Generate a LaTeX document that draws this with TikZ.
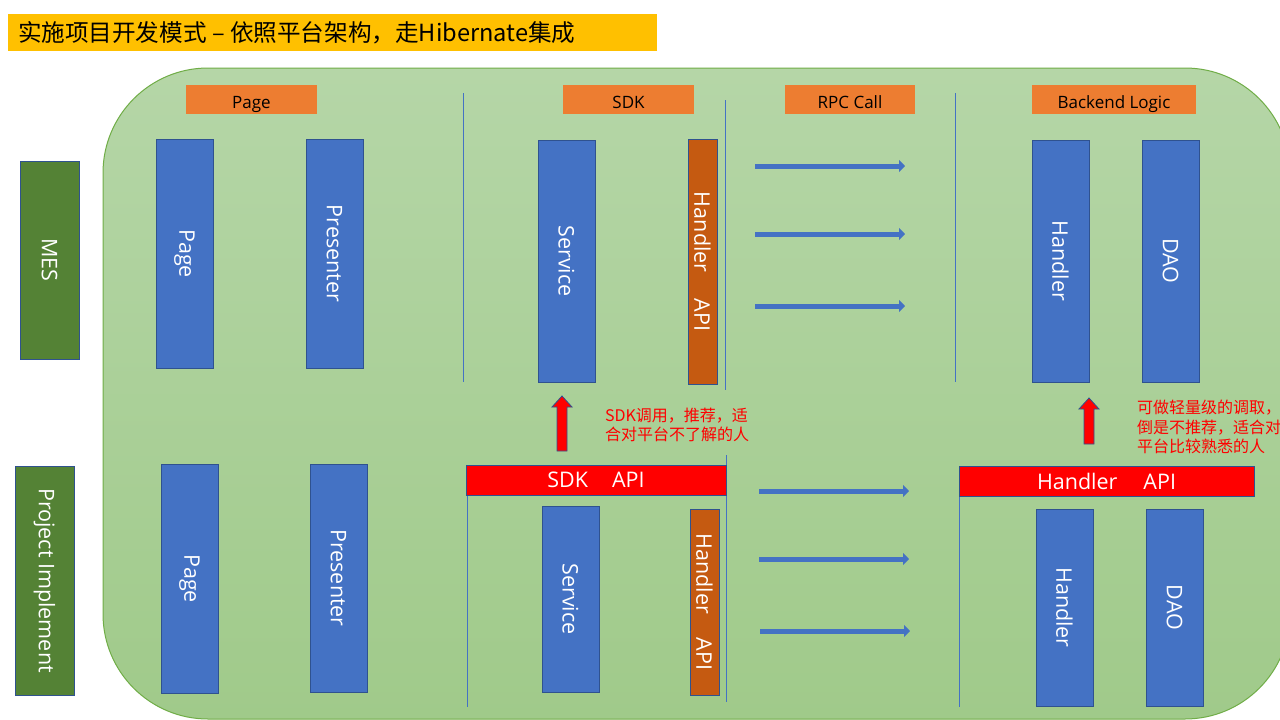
\documentclass[tikz,border=0pt]{standalone}
\usepackage{fontspec}
\setmainfont{Open Sans}
\newfontfamily\cjk{Noto Sans CJK SC}
\usetikzlibrary{arrows.meta}
\definecolor{bluebox}{HTML}{4472C4}
\definecolor{blueedge}{HTML}{2F528F}
\definecolor{orangehdr}{HTML}{ED7D31}
\definecolor{orangebox}{HTML}{C55A11}
\definecolor{greenbox}{HTML}{548235}
\definecolor{greentop}{HTML}{B5D6A7}
\definecolor{greenbot}{HTML}{A0CA8A}
\definecolor{greenedge}{HTML}{70AD47}
\definecolor{titlebg}{HTML}{FFC000}
\definecolor{redbar}{HTML}{FF0000}
\newcommand\myrot[1]{\rotatebox{-90}{#1}}
\begin{document}
\begin{tikzpicture}[x=1pt,y=-1pt,
  every node/.style={inner sep=0pt, outer sep=0pt},
  colbox/.style={draw=blueedge, line width=0.9pt, fill=bluebox, text=white, anchor=north west,
    font=\fontsize{21.5}{25}\selectfont},
  apibox/.style={colbox, fill=orangebox},
  rowbox/.style={colbox, fill=greenbox},
  hdrbox/.style={fill=orangehdr, text=black, anchor=north west, minimum width=131pt, minimum height=29pt,
    text height=17pt, text depth=0pt, font=\fontsize{17}{20}\selectfont},
  redbox/.style={draw=blueedge, line width=0.9pt, fill=redbar, text=white, anchor=north west, minimum height=30pt,
    font=\fontsize{21.5}{25}\selectfont},
  sepline/.style={draw=bluebox, line width=0.9pt},
  rpc/.style={draw=bluebox, line width=5pt, -{Triangle[length=6pt,width=12pt]}},
  uparrow/.style={fill=redbar, draw=blueedge, line width=0.8pt},
  note/.style={text=red, anchor=west, align=left, font=\cjk\fontsize{16}{19.5}\selectfont}
]
\useasboundingbox (0,0) rectangle (1280,720);
\fill[white] (0,0) rectangle (1280,720);
\begin{scope}
\clip (0,0) rectangle (1280,720);
\path[draw=greenedge, line width=1pt, top color=greentop, bottom color=greenbot, rounded corners=105pt]
  (103,68) rectangle (1290,719);
\end{scope}

% title
\node[fill=titlebg, anchor=north west, minimum width=649pt, minimum height=37pt] (title) at (8,14) {};
\node[anchor=west, font=\cjk\fontsize{23.6}{27}\selectfont] (titletext) at (18,33) {实施项目开发模式 – 依照平台架构，走Hibernate集成};

% row labels
\node[rowbox, minimum width=59pt, minimum height=198pt] (mes) at (20,161) {\myrot{MES}};
\node[rowbox, minimum width=59pt, minimum height=229pt] (proj) at (15,466) {\myrot{Project Implement}};

% headers
\node[hdrbox] (hpage) at (186,85) {Page};
\node[hdrbox] (hsdk) at (563,85) {SDK};
\node[hdrbox, minimum width=130pt] (hrpc) at (785,85) {RPC Call};
\node[hdrbox, minimum width=164pt] (hback) at (1032,85) {Backend Logic};

% separators
\coordinate (s1a) at (463,93);  \coordinate (s1b) at (463,382);
\coordinate (s2a) at (725,100); \coordinate (s2b) at (725,390);
\coordinate (s3a) at (955,93);  \coordinate (s3b) at (955,382);
\coordinate (s4a) at (467,495); \coordinate (s4b) at (467,707);
\coordinate (s5a) at (726,455); \coordinate (s5b) at (726,702);
\coordinate (s6a) at (959,496); \coordinate (s6b) at (959,707);
\foreach \s in {1,...,6} { \draw[sepline] (s\s a) -- (s\s b); }

% top row
\node[colbox, minimum width=57pt, minimum height=229pt] (tpage) at (156,139) {\myrot{Page}};
\node[colbox, minimum width=57pt, minimum height=229pt] (tpres) at (306,139) {\myrot{Presenter}};
\node[colbox, minimum width=57pt, minimum height=242pt] (tserv) at (538,140) {\myrot{Service}};
\node[apibox, minimum width=29pt, minimum height=245pt] (tapi) at (688,139) {\myrot{Handler\hspace{26pt}API}};
\node[colbox, minimum width=57pt, minimum height=242pt] (thand) at (1032,140) {\myrot{Handler}};
\node[colbox, minimum width=57pt, minimum height=242pt] (tdao) at (1142,140) {\myrot{DAO}};

% bottom row
\node[colbox, minimum width=57pt, minimum height=229pt] (bpage) at (161,464) {\myrot{Page}};
\node[colbox, minimum width=57pt, minimum height=228pt] (bpres) at (310,464) {\myrot{Presenter}};
\node[redbox, minimum width=260pt] (sdkapi) at (466,465) {SDK\hspace{24pt}API};
\node[redbox, minimum width=295pt] (handapi) at (959,466) {Handler\hspace{26pt}API};
\node[colbox, minimum width=57pt, minimum height=186pt] (bserv) at (542,506) {\myrot{Service}};
\node[apibox, minimum width=29pt, minimum height=186pt] (bapi) at (690,509) {\myrot{Handler\hspace{24pt}API}};
\node[colbox, minimum width=57pt, minimum height=197pt] (bhand) at (1036,509) {\myrot{Handler}};
\node[colbox, minimum width=57pt, minimum height=197pt] (bdao) at (1146,509) {\myrot{DAO}};

% rpc arrows
\coordinate (r1a) at (755,166); \coordinate (r1b) at (905,166);
\coordinate (r2a) at (755,234); \coordinate (r2b) at (905,234);
\coordinate (r3a) at (755,306); \coordinate (r3b) at (905,306);
\coordinate (r4a) at (759,491); \coordinate (r4b) at (909,491);
\coordinate (r5a) at (759,559); \coordinate (r5b) at (909,559);
\coordinate (r6a) at (760,631); \coordinate (r6b) at (910,631);
\foreach \r in {1,...,6} { \draw[rpc] (r\r a) -- (r\r b); }

% red up arrows
\filldraw[uparrow] (557,451) -- (557,407) -- (552,407) -- (562,396) -- (572,407) -- (567,407) -- (567,451) -- cycle;
\filldraw[uparrow] (1084,444) -- (1084,409) -- (1079,409) -- (1089,398) -- (1099,409) -- (1094,409) -- (1094,444) -- cycle;

% notes
\node[note] (note1) at (605,425) {SDK调用，推荐，适\\合对平台不了解的人};
\node[note] (note2) at (1137,427) {可做轻量级的调取，\\倒是不推荐，适合对\\平台比较熟悉的人};
\end{tikzpicture}
\end{document}
